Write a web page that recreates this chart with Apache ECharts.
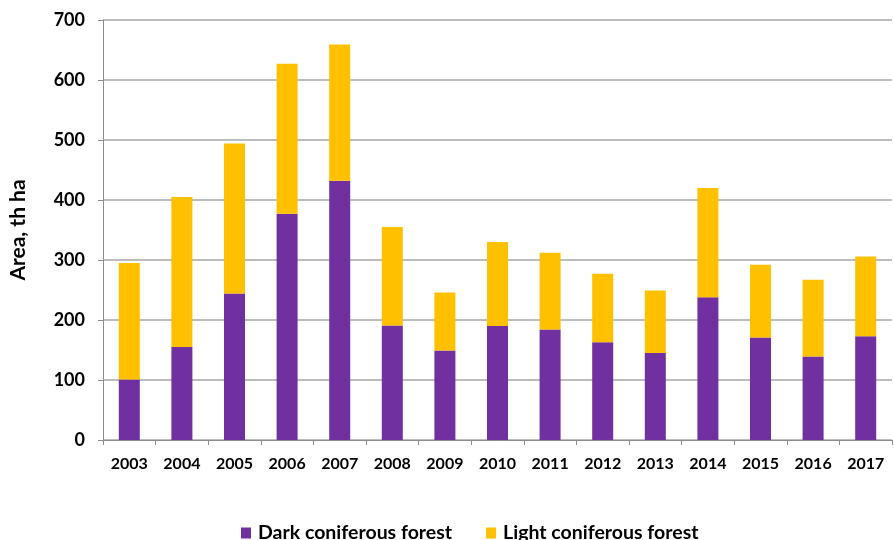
<!DOCTYPE html>
<html>
<head>
<meta charset="utf-8">
<script src="https://cdn.jsdelivr.net/npm/echarts@6/dist/echarts.min.js"></script>
<style>
  html, body { margin: 0; padding: 0; background: #fff; }
  #chart { width: 894px; height: 540px; }
</style>
</head>
<body>
<div id="chart"></div>
<script>
// Burnt forest area by year, thousand hectares
const years = ['2003','2004','2005','2006','2007','2008','2009','2010','2011','2012','2013','2014','2015','2016','2017'];
const darkConiferous  = [101, 155, 244, 377, 432, 191, 149, 190, 184, 163, 145, 238, 171, 139, 173];
const lightConiferous = [194, 250, 250, 250, 227, 164, 97, 140, 128, 114, 104, 182, 121, 128, 133];
const yTicks = [0, 100, 200, 300, 400, 500, 600, 700];

const FONT = 'Lato, "Open Sans", sans-serif';
const chart = echarts.init(document.getElementById('chart'));

chart.setOption({
  animation: false,
  textStyle: { fontFamily: FONT },
  grid: { left: 100, right: 2, top: 20, bottom: 100, containLabel: false },
  legend: {
    top: 518,
    left: 236,
    itemWidth: 10,
    itemHeight: 11,
    itemGap: 34,
    icon: 'rect',
    textStyle: { fontFamily: FONT, fontWeight: 'bold', fontSize: 19.5, color: '#000', padding: [0, 0, 0, 2] },
    data: ['Dark coniferous forest', 'Light coniferous forest']
  },
  xAxis: {
    type: 'category',
    data: years,
    axisLine: { lineStyle: { color: '#8c8c8c', width: 1 } },
    axisTick: { show: true, alignWithLabel: false, length: 5, lineStyle: { color: '#8c8c8c' } },
    axisLabel: { color: '#000', fontWeight: 'bold', fontSize: 16, margin: 16, fontFamily: FONT }
  },
  yAxis: {
    type: 'value',
    min: yTicks[0],
    max: yTicks[yTicks.length - 1],
    interval: 100,
    name: 'Area, th ha',
    nameLocation: 'middle',
    nameGap: 74,
    nameTextStyle: { color: '#000', fontWeight: 'bold', fontSize: 21, fontFamily: FONT },
    axisLine: { show: true, lineStyle: { color: '#8c8c8c', width: 1 } },
    axisTick: { show: true, length: 5, lineStyle: { color: '#8c8c8c' } },
    axisLabel: { color: '#000', fontWeight: 'bold', fontSize: 18, margin: 18, fontFamily: FONT },
    splitLine: { show: true, lineStyle: { color: '#a6a6a6', width: 1.5 } }
  },
  series: [
    {
      name: 'Dark coniferous forest',
      type: 'bar',
      stack: 'total',
      barWidth: 21,
      itemStyle: { color: '#7030a0' },
      data: darkConiferous
    },
    {
      name: 'Light coniferous forest',
      type: 'bar',
      stack: 'total',
      barWidth: 21,
      itemStyle: { color: '#ffc000' },
      data: lightConiferous
    }
  ]
});
</script>
</body>
</html>
